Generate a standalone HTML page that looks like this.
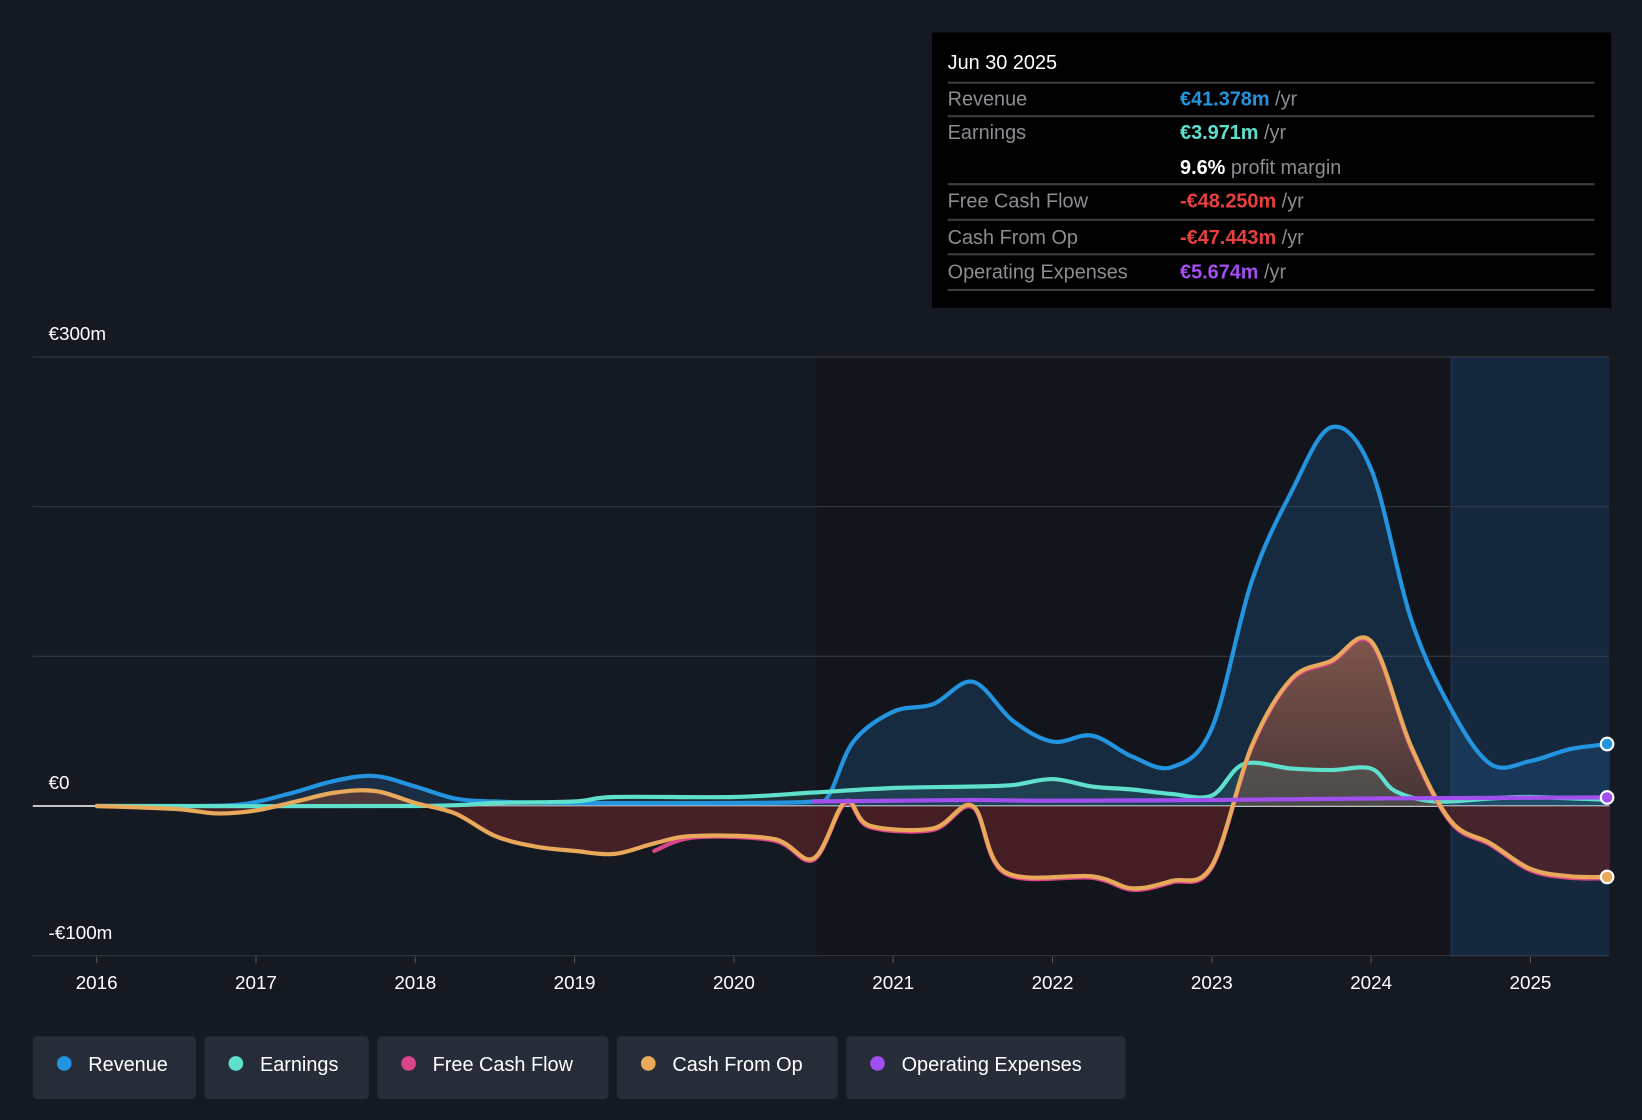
<!DOCTYPE html>
<html><head><meta charset="utf-8"><style>
html,body{margin:0;padding:0;background:#151a22;overflow:hidden}
svg{display:block;font-family:"Liberation Sans",sans-serif}
</style></head><body>
<svg id="c" width="1642" height="1120" viewBox="0 0 1568 1070">
<rect x="0" y="0" width="1568" height="1070" fill="#151a22"/>
<rect x="780" y="341" width="606" height="573" fill="#12151b"/>
<rect x="1386" y="341" width="151" height="573" fill="#15283d"/>
<line x1="1386" y1="341" x2="1386" y2="914" stroke="#24384d"/>
<g id="grid"></g>
<g id="areas"></g>
<g id="lines"></g>
<g id="axes"></g>
<g>
<rect x="890" y="31" width="649" height="263" fill="#000"/>
<text x="905" y="66" fill="#fff" font-size="19">Jun 30 2025</text>
<g stroke="#3a3d42" stroke-width="2">
<line x1="905" y1="79" x2="1523" y2="79"/><line x1="905" y1="111" x2="1523" y2="111"/><line x1="905" y1="176" x2="1523" y2="176"/><line x1="905" y1="210" x2="1523" y2="210"/><line x1="905" y1="243" x2="1523" y2="243"/><line x1="905" y1="277" x2="1523" y2="277"/></g>
<g font-size="19" fill="#8a8d92">
<text x="905" y="101">Revenue</text>
<text x="905" y="133">Earnings</text>
<text x="905" y="198">Free Cash Flow</text>
<text x="905" y="233">Cash From Op</text>
<text x="905" y="266">Operating Expenses</text>
<text x="1127" y="101"><tspan fill="#2394df" font-weight="bold">€41.378m</tspan> /yr</text>
<text x="1127" y="133"><tspan fill="#5ee0cc" font-weight="bold">€3.971m</tspan> /yr</text>
<text x="1127" y="166"><tspan fill="#fff" font-weight="bold">9.6%</tspan> profit margin</text>
<text x="1127" y="198"><tspan fill="#e8403f" font-weight="bold">-€48.250m</tspan> /yr</text>
<text x="1127" y="233"><tspan fill="#e8403f" font-weight="bold">-€47.443m</tspan> /yr</text>
<text x="1127" y="266"><tspan fill="#a24ff0" font-weight="bold">€5.674m</tspan> /yr</text>
</g></g>
<g id="legend"></g>
</svg>
<script>
const yTicks=[300,200,100,0,-100];
const yTickLabels={300:"€300m",0:"€0","-100":"-€100m"};
const xYears=[2016,2017,2018,2019,2020,2021,2022,2023,2024,2025];
const revT=[2016,2016.5,2016.9,2017.2,2017.5,2017.75,2018,2018.25,2018.5,2019,2020,2020.5,2020.6,2020.75,2021,2021.25,2021.5,2021.75,2022,2022.25,2022.5,2022.75,2023,2023.25,2023.5,2023.75,2024,2024.25,2024.5,2024.75,2025,2025.25,2025.5];
const revV=[0,0,1,8,17,20,13,5,3,2,2,3,8,43,63,68,83,57,43,47,33,26,52,150,210,253,225,125,65,28,30,38,41.4];
const earnT=[2016,2018,2018.5,2019,2019.25,2020,2020.5,2021,2021.5,2021.75,2022,2022.25,2022.5,2022.75,2023,2023.2,2023.5,2023.75,2024,2024.15,2024.4,2024.75,2025,2025.5];
const earnV=[0,0,2,3,6,6,9,12,13,14,18,13,11,8,7,28,25,24,25,10,3,5,6,4];
const cfoT=[2016,2016.5,2016.75,2017,2017.25,2017.5,2017.75,2018,2018.25,2018.5,2018.75,2019,2019.25,2019.5,2019.75,2020.25,2020.5,2020.7,2020.85,2021.25,2021.5,2021.7,2022.25,2022.5,2022.75,2023,2023.25,2023.5,2023.75,2024,2024.25,2024.5,2024.75,2025,2025.25,2025.5];
const cfoV=[0,-2,-5,-3,3,9,10,2,-5,-20,-27,-30,-32,-25,-20,-22,-35,3,-13,-15,0,-44,-47,-55,-50,-40,40,85,97,110,40,-10,-25,-42,-47,-47.4];
const fcfT=[2019.5,2019.75,2020.25,2020.5,2020.7,2020.85,2021.25,2021.5,2021.7,2022.25,2022.5,2022.75,2023,2023.25,2023.5,2023.75,2024,2024.25,2024.5,2024.75,2025,2025.25,2025.5];
const fcfV=[-30,-21,-23,-36,2,-14,-16,-1,-45,-48,-56,-51,-41,39,84,96,109,39,-11,-26,-43,-48,-48.25];
const opxT=[2020.5,2021,2021.5,2022,2023,2024,2025,2025.5];
const opxV=[3,3.5,4,3.5,4,5,5.5,5.7];
const legendNames=["Revenue","Earnings","Free Cash Flow","Cash From Op","Operating Expenses"];
const legendColors=["#2394df","#5ee0cc","#d9458a","#e8a95a","#a24ff0"];

const NS="http://www.w3.org/2000/svg";
const X=t=>92+(t-2016)*152.2;
const Y=v=>770-v*1.43;
function mk(tag,attrs,parent){const e=document.createElementNS(NS,tag);for(const k in attrs)e.setAttribute(k,attrs[k]);parent.appendChild(e);return e;}
function path(T,V){const p=T.map((t,i)=>[X(t),Y(V[i])]);let d="M"+p[0][0]+","+p[0][1];
for(let i=0;i<p.length-1;i++){const p0=p[i-1]||p[i],p1=p[i],p2=p[i+1],p3=p[i+2]||p2;
const c1=[p1[0]+(p2[0]-p0[0])/6,p1[1]+(p2[1]-p0[1])/6],c2=[p2[0]-(p3[0]-p1[0])/6,p2[1]-(p3[1]-p1[1])/6];
d+=` C${c1[0]},${c1[1]} ${c2[0]},${c2[1]} ${p2[0]},${p2[1]}`;}return d;}
const grid=document.getElementById('grid'),axes=document.getElementById('axes'),areas=document.getElementById('areas'),lines=document.getElementById('lines'),legend=document.getElementById('legend');
yTicks.forEach(v=>{const l=mk('line',{x1:31,x2:1537,y1:Y(v),y2:Y(v),stroke:v===0?"#ffffff":"#343a44","stroke-width":v===0?1.5:1},grid);


if(yTickLabels[v]!==undefined){const t=mk('text',{x:46,y:Y(v)-16,fill:"#fff","font-size":18},axes);t.textContent=yTickLabels[v];

}});
xYears.forEach(yr=>{const tk=mk('line',{x1:X(yr),x2:X(yr),y1:914,y2:920,stroke:"#555"},axes);


const t=mk('text',{x:X(yr),y:945,fill:"#fff","font-size":18,"text-anchor":"middle"},axes);t.textContent=yr;

});
function area(T,V,fill,name){const d=path(T,V)+` L${X(T[T.length-1])},${Y(0)} L${X(T[0])},${Y(0)} Z`;const a=mk('path',{d:d,fill:fill},areas);

}
function line(T,V,c,name){const l=mk('path',{d:path(T,V),fill:"none",stroke:c,"stroke-width":4,"stroke-linejoin":"round","stroke-linecap":"round"},lines);

}
const defs=mk('defs',{},document.getElementById('c'));
defs.innerHTML='<linearGradient id="cg" gradientUnits="userSpaceOnUse" x1="0" y1="610" x2="0" y2="860"><stop offset="0" stop-color="#8a5a4c" stop-opacity="0.9"/><stop offset="0.64" stop-color="#5a3a35" stop-opacity="0.75"/><stop offset="0.641" stop-color="#5a2227" stop-opacity="0.7"/><stop offset="1" stop-color="#5a2227" stop-opacity="0.7"/></linearGradient>';
area(revT,revV,"rgba(35,100,160,0.28)","revenue-area");
area(cfoT,cfoV,"url(#cg)","cash-from-op-area");
area(earnT,earnV,"rgba(94,224,204,0.12)","earnings-area");
line(revT,revV,"#2394df","revenue-line");
line(earnT,earnV,"#5ee0cc","earnings-line");
line(fcfT,fcfV,"#d9458a","free-cash-flow-line");
line(cfoT,cfoV,"#e8a95a","cash-from-op-line");
line(opxT,opxV,"#a24ff0","operating-expenses-line");
[[revV,"#2394df"],[opxV,"#a24ff0"],[cfoV,"#e8a95a"]].forEach(([V,c])=>{const d=mk('circle',{cx:1535,cy:Y(V[V.length-1]),r:6,fill:c,stroke:"#fff","stroke-width":2},lines);

});
const widths=[156,157,221,211,267];let lx=31;
legendNames.forEach((n,i)=>{const g=mk('g',{},legend);


mk('rect',{x:lx,y:990,width:widths[i],height:60,rx:4,fill:"#272d38"},g);
mk('circle',{cx:lx+30,cy:1016,r:7,fill:legendColors[i]},g);
const t=mk('text',{x:lx+53,y:1023,fill:"#fff","font-size":19},g);t.textContent=n;
lx+=widths[i]+8;});
</script>
</body></html>
